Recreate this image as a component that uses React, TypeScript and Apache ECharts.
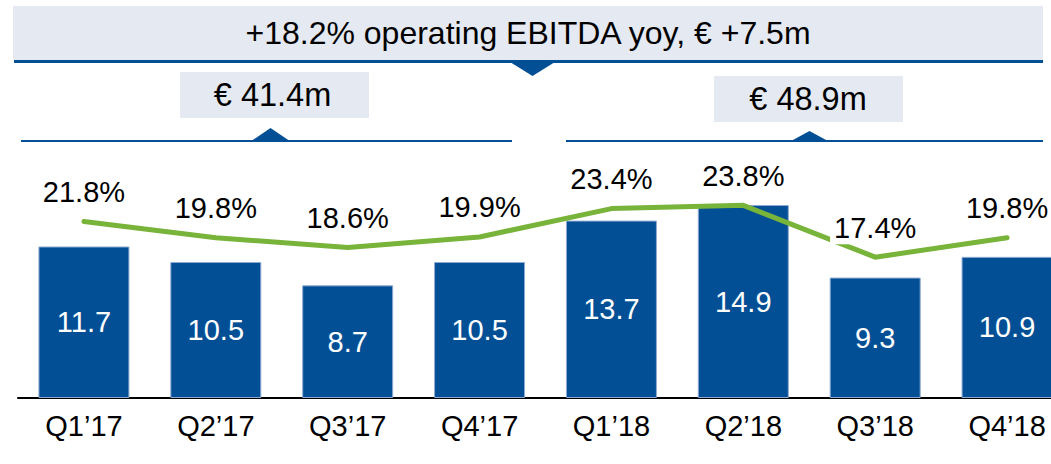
import React, { useEffect, useRef } from "react";
import * as echarts from "echarts";

const categories = ["Q1’17", "Q2’17", "Q3’17", "Q4’17", "Q1’18", "Q2’18", "Q3’18", "Q4’18"];
const ebitdaValues = [11.7, 10.5, 8.7, 10.5, 13.7, 14.9, 9.3, 10.9];
const marginValues = [21.8, 19.8, 18.6, 19.9, 23.4, 23.8, 17.4, 19.8];
const headline = "+18.2% operating EBITDA yoy, € +7.5m";
const total2017 = "€ 41.4m";
const total2018 = "€ 48.9m";

const BLUE = "#024F96";
const LIGHT = "#E5E9F2";
const GREEN = "#78B33A";
const FONT = "'Liberation Sans', Arial, sans-serif";

export default function App() {
  const ref = useRef<HTMLDivElement>(null);
  useEffect(() => {
    if (!ref.current) return;
    const chart = echarts.init(ref.current, undefined, { renderer: "svg" });
    chart.setOption({
      animation: false,
      textStyle: { fontFamily: FONT },
      grid: { left: 18, right: 0, top: 139, bottom: 66 },
      xAxis: {
        type: "category",
        data: categories,
        axisLine: { show: true, lineStyle: { color: "#000", width: 2 } },
        axisTick: { show: false },
        axisLabel: { color: "#000", fontSize: 29, fontFamily: FONT, margin: 13 },
      },
      yAxis: [
        { type: "value", min: 0, max: 20, show: false, splitLine: { show: false } },
        { type: "value", min: 0, max: 32, show: false, splitLine: { show: false } },
      ],
      series: [
        {
          type: "bar",
          data: ebitdaValues,
          yAxisIndex: 0,
          barWidth: "69%",
          itemStyle: { color: BLUE, borderColor: "#8FAAD3", borderWidth: 1 },
          label: {
            show: true,
            position: "inside",
            color: "#fff",
            fontSize: 29,
            fontFamily: FONT,
            formatter: (p: any) => p.value.toFixed(1),
          },
          z: 2,
        },
        {
          type: "line",
          data: marginValues,
          yAxisIndex: 1,
          symbol: "circle",
          symbolSize: 2,
          itemStyle: { color: GREEN },
          lineStyle: { color: GREEN, width: 5, cap: "round", join: "round" },
          label: {
            show: true,
            position: "top",
            distance: 12,
            color: "#000",
            fontSize: 29,
            fontFamily: FONT,
            backgroundColor: "#fff",
            padding: [2, 4],
            formatter: (p: any) => p.value.toFixed(1) + "%",
          },
          z: 5,
        },
      ],
      graphic: [
        { type: "rect", shape: { x: 13, y: 6, width: 1030, height: 54 }, style: { fill: LIGHT }, z: 10 },
        { type: "rect", shape: { x: 14, y: 60, width: 1029, height: 3 }, style: { fill: BLUE }, z: 10 },
        { type: "polygon", shape: { points: [[510, 62], [555, 62], [532.5, 76]] }, style: { fill: BLUE }, z: 10 },
        {
          type: "text",
          x: 528,
          y: 33,
          style: { text: headline, fill: "#000", font: `32px ${FONT}`, textAlign: "center", textVerticalAlign: "middle" },
          z: 11,
        },
        { type: "rect", shape: { x: 180, y: 72, width: 189, height: 46 }, style: { fill: LIGHT }, z: 10 },
        {
          type: "text",
          x: 272.5,
          y: 95,
          style: { text: total2017, fill: "#000", font: `32.5px ${FONT}`, textAlign: "center", textVerticalAlign: "middle" },
          z: 11,
        },
        { type: "rect", shape: { x: 714, y: 76, width: 189, height: 46 }, style: { fill: LIGHT }, z: 10 },
        {
          type: "text",
          x: 808,
          y: 99,
          style: { text: total2018, fill: "#000", font: `32.5px ${FONT}`, textAlign: "center", textVerticalAlign: "middle" },
          z: 11,
        },
        { type: "rect", shape: { x: 21, y: 140, width: 491, height: 2 }, style: { fill: BLUE }, z: 10 },
        { type: "rect", shape: { x: 566, y: 140, width: 477, height: 2 }, style: { fill: BLUE }, z: 10 },
        { type: "polygon", shape: { points: [[252, 140.5], [289, 140.5], [270.5, 128]] }, style: { fill: BLUE }, z: 10 },
        { type: "polygon", shape: { points: [[792, 140.5], [827, 140.5], [809.5, 131]] }, style: { fill: BLUE }, z: 10 },
      ],
    });
    return () => chart.dispose();
  }, []);
  return (
    <div style={{ position: "absolute", left: 0, top: 0, width: 1051, height: 464, overflow: "hidden" }}>
      <div ref={ref} style={{ position: "absolute", left: 0, top: 0, width: 1073, height: 464 }} />
    </div>
  );
}
